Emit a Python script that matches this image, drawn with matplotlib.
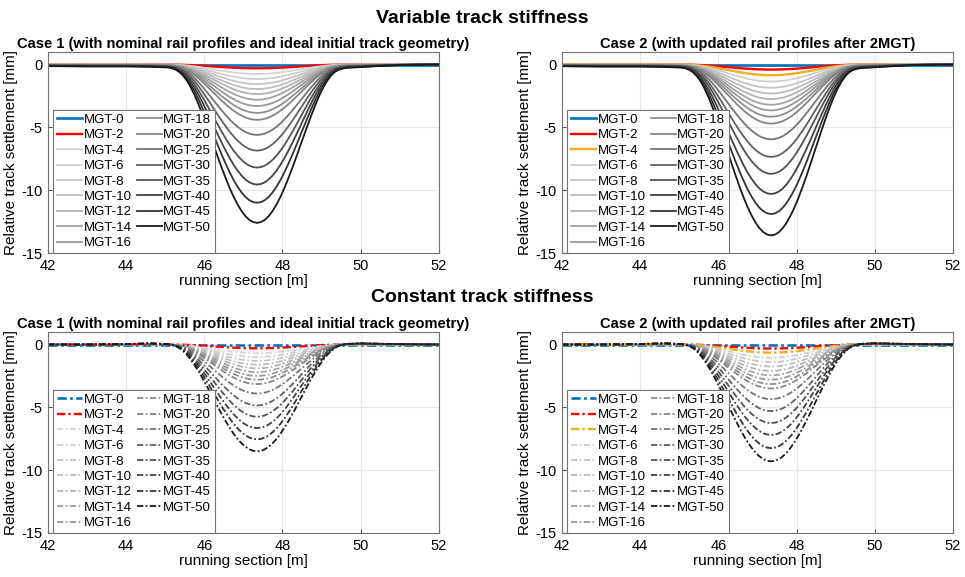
import matplotlib
matplotlib.use('Agg')
import matplotlib.pyplot as plt
import numpy as np

plt.rcParams['font.family'] = ['Liberation Sans', 'DejaVu Sans']
plt.rcParams['axes.unicode_minus'] = False

# MGT steps shown in every panel
mgt = [0, 2, 4, 6, 8, 10, 12, 14, 16, 18, 20, 25, 30, 35, 40, 45, 50]
labels = [f'MGT-{m}' for m in mgt]

# running section positions [m]
x_pos = [42.0, 43.0, 44.0, 44.6, 45.05, 45.15, 45.25, 45.35, 45.45, 45.55, 45.65,
         45.75, 45.85, 45.95, 46.05, 46.15, 46.25, 46.35, 46.45, 46.55, 46.65,
         46.75, 46.85, 46.95, 47.05, 47.15, 47.25, 47.35, 47.45, 47.55, 47.65,
         47.75, 47.85, 47.95, 48.05, 48.15, 48.25, 48.35, 48.45, 48.55, 48.65,
         48.75, 48.85, 48.95, 49.05, 49.15, 49.25, 49.35, 49.45, 49.55, 49.65,
         50.0, 50.5, 51.0, 51.5, 52.0]

# settlement profile relative to the deepest point
shape_variable = [0.010, 0.012, 0.012, 0.014, 0.018, 0.022, 0.030, 0.045, 0.068, 0.100, 0.142,
                  0.192, 0.250, 0.313, 0.379, 0.448, 0.517, 0.587, 0.655, 0.719, 0.780,
                  0.835, 0.883, 0.924, 0.957, 0.981, 0.995, 1.000, 0.995, 0.981, 0.957,
                  0.924, 0.883, 0.835, 0.780, 0.719, 0.655, 0.587, 0.517, 0.448, 0.379,
                  0.313, 0.250, 0.192, 0.142, 0.100, 0.068, 0.045, 0.032, 0.025, 0.021,
                  0.016, 0.009, 0.003, 0.001, 0.000]
shape_constant = [0.000, 0.000, -0.004, -0.012, -0.004, 0.003, 0.012, 0.030, 0.058, 0.095, 0.140,
                  0.192, 0.250, 0.313, 0.379, 0.448, 0.517, 0.587, 0.655, 0.719, 0.780,
                  0.835, 0.883, 0.924, 0.957, 0.981, 0.995, 1.000, 0.995, 0.981, 0.957,
                  0.924, 0.883, 0.835, 0.780, 0.719, 0.655, 0.587, 0.517, 0.448, 0.379,
                  0.313, 0.250, 0.192, 0.140, 0.095, 0.058, 0.030, 0.012, 0.002, -0.006,
                  -0.012, -0.008, -0.004, -0.002, 0.000]

# maximum settlement [mm] per MGT step
var_case1 = [0, 0.3, 0.75, 1.15, 1.55, 1.95, 2.35, 2.8, 3.3, 3.85, 4.4, 5.6, 6.85, 8.2, 9.55, 11.0, 12.6]
var_case2 = [0, 0.4, 0.85, 1.35, 1.85, 2.3, 2.75, 3.2, 3.65, 4.15, 4.7, 5.95, 7.35, 8.7, 10.3, 11.9, 13.6]
const_case1 = [0, 0.3, 0.7, 1.0, 1.3, 1.6, 1.9, 2.2, 2.5, 2.8, 3.15, 3.9, 4.85, 5.75, 6.65, 7.55, 8.5]
const_case2 = [0, 0.32, 0.65, 1.05, 1.4, 1.75, 2.1, 2.45, 2.8, 3.15, 3.5, 4.35, 5.3, 6.25, 7.2, 8.25, 9.3]

greys = [0.84, 0.81, 0.77, 0.74, 0.7, 0.64, 0.6, 0.56, 0.52, 0.46, 0.38, 0.32, 0.26, 0.2, 0.1]
blue = (0.0, 0.447, 0.741)
red = (1.0, 0.0, 0.0)
orange = (0.929, 0.694, 0.125)

title1 = 'Case 1 (with nominal rail profiles and ideal initial track geometry)'
title2 = 'Case 2 (with updated rail profiles after 2MGT)'

fig = plt.figure(figsize=(9.65, 5.77), dpi=100)
W = 0.405
H = 0.3484
panels = [
    ([0.0497, 0.5615, W, H], var_case1, shape_variable, False, False, title1),
    ([0.5824, 0.5615, W, H], var_case2, shape_variable, False, True, title2),
    ([0.0497, 0.0763, W, H], const_case1, shape_constant, True, False, title1),
    ([0.5824, 0.0763, W, H], const_case2, shape_constant, True, True, title2),
]

x = np.array(x_pos)
for rect, depths, shape, dashed, case2, title in panels:
    ax = fig.add_axes(rect)
    shape = np.array(shape)
    for i, d in enumerate(depths):
        if i == 0:
            c, lw = blue, 1.9
        elif i == 1:
            c, lw = red, 1.7
        elif i == 2 and case2:
            c, lw = orange, 1.7
        else:
            c, lw = str(greys[i - 2]), 1.3
        line, = ax.plot(x, -d * shape, color=c, lw=lw, label=labels[i])
        if dashed:
            line.set_dashes((3.5, 1.3, 1.0, 1.3))
    ax.set_xlim(42, 52)
    ax.set_ylim(-15, 1)
    ax.set_xticks([42, 44, 46, 48, 50, 52])
    ax.set_yticks([0, -5, -10, -15])
    ax.grid(True, color='0.9', lw=0.8)
    ax.set_axisbelow(True)
    ax.tick_params(direction='in', labelsize=10.5, length=3, color='0.3', pad=4)
    for s in ax.spines.values():
        s.set_color('0.45')
    ax.set_title(title, fontsize=10.5, fontweight='bold', pad=3)
    ax.set_xlabel('running section [m]', fontsize=11, labelpad=1)
    ax.set_ylabel('Relative track settlement [mm]', fontsize=11, labelpad=2)
    leg = ax.legend(ncol=2, loc='upper left', bbox_to_anchor=(0.013, 0.712),
                    fontsize=9.5, frameon=True, fancybox=False, framealpha=1,
                    edgecolor='0.45', handlelength=1.9, handletextpad=0.1,
                    columnspacing=0.4, labelspacing=0.24, borderpad=0.3,
                    borderaxespad=0)
    leg.get_frame().set_linewidth(0.8)

fig.text(0.5, 0.968, 'Variable track stiffness', ha='center', va='center',
         fontsize=14, fontweight='bold')
fig.text(0.5, 0.484, 'Constant track stiffness', ha='center', va='center',
         fontsize=14, fontweight='bold')

fig.savefig('out.png', dpi=100)
